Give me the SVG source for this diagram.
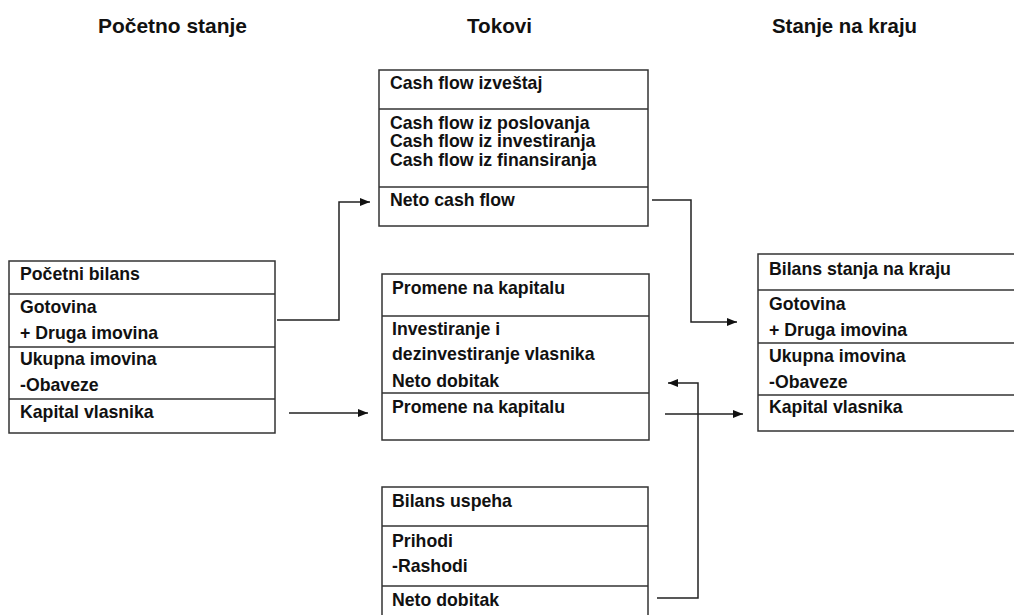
<svg xmlns="http://www.w3.org/2000/svg" width="1014" height="615" viewBox="0 0 1014 615">
<style>
.box{fill:#fff;stroke:#333;stroke-width:1.5}
.div{stroke:#333;stroke-width:1.5}
.t{font-family:"Liberation Sans",Arial,sans-serif;font-weight:bold;font-size:17.7px;fill:#111}
.h{font-family:"Liberation Sans",Arial,sans-serif;font-weight:bold;font-size:21px;fill:#111}
.c{fill:none;stroke:#222;stroke-width:1.5}
</style>
<defs>
<marker id="arr" markerUnits="userSpaceOnUse" markerWidth="11" markerHeight="9" refX="10" refY="4" orient="auto">
<path d="M0,0 L10,4 L0,8 z" fill="#111"/>
</marker>
</defs>
<rect width="1014" height="615" fill="#fff"/>
<g id="headers">
<text class="h" x="98" y="33" textLength="149" lengthAdjust="spacingAndGlyphs">Početno stanje</text>
<text class="h" x="467" y="33" textLength="65" lengthAdjust="spacingAndGlyphs">Tokovi</text>
<text class="h" x="772" y="33" textLength="145" lengthAdjust="spacingAndGlyphs">Stanje na kraju</text>
</g>
<g id="pocetni-bilans">
<rect class="box" x="9" y="261" width="266" height="172"/>
<line class="div" x1="9" y1="294" x2="275" y2="294"/>
<line class="div" x1="9" y1="347" x2="275" y2="347"/>
<line class="div" x1="9" y1="399" x2="275" y2="399"/>
<text class="t" x="20" y="280">Početni bilans</text>
<text class="t" x="20" y="313">Gotovina</text>
<text class="t" x="20" y="339">+ Druga imovina</text>
<text class="t" x="20" y="365">Ukupna imovina</text>
<text class="t" x="20" y="391">-Obaveze</text>
<text class="t" x="20" y="418">Kapital vlasnika</text>
</g>
<g id="cash-flow">
<rect class="box" x="379" y="70" width="269" height="156"/>
<line class="div" x1="379" y1="109" x2="648" y2="109"/>
<line class="div" x1="379" y1="187" x2="648" y2="187"/>
<text class="t" x="390" y="89">Cash flow izveštaj</text>
<text class="t" x="390" y="129">Cash flow iz poslovanja</text>
<text class="t" x="390" y="147">Cash flow iz investiranja</text>
<text class="t" x="390" y="166">Cash flow iz finansiranja</text>
<text class="t" x="390" y="206">Neto cash flow</text>
</g>
<g id="promene-na-kapitalu">
<rect class="box" x="382" y="274" width="267" height="166"/>
<line class="div" x1="382" y1="316" x2="649" y2="316"/>
<line class="div" x1="382" y1="393" x2="649" y2="393"/>
<text class="t" x="392" y="294">Promene na kapitalu</text>
<text class="t" x="392" y="335">Investiranje i</text>
<text class="t" x="392" y="360">dezinvestiranje vlasnika</text>
<text class="t" x="392" y="387">Neto dobitak</text>
<text class="t" x="392" y="413">Promene na kapitalu</text>
</g>
<g id="bilans-uspeha">
<rect class="box" x="382" y="487" width="266" height="140"/>
<line class="div" x1="382" y1="526" x2="648" y2="526"/>
<line class="div" x1="382" y1="586" x2="648" y2="586"/>
<text class="t" x="392" y="507">Bilans uspeha</text>
<text class="t" x="392" y="547">Prihodi</text>
<text class="t" x="392" y="572">-Rashodi</text>
<text class="t" x="392" y="606">Neto dobitak</text>
</g>
<g id="bilans-na-kraju">
<rect class="box" x="758" y="254" width="270" height="177"/>
<line class="div" x1="758" y1="290" x2="1014" y2="290"/>
<line class="div" x1="758" y1="343" x2="1014" y2="343"/>
<line class="div" x1="758" y1="395" x2="1014" y2="395"/>
<text class="t" x="769" y="275">Bilans stanja na kraju</text>
<text class="t" x="769" y="310">Gotovina</text>
<text class="t" x="769" y="336">+ Druga imovina</text>
<text class="t" x="769" y="362">Ukupna imovina</text>
<text class="t" x="769" y="388">-Obaveze</text>
<text class="t" x="769" y="413">Kapital vlasnika</text>
</g>
<g id="connectors">
<polyline class="c" points="277,320 339,320 339,202 370,202" marker-end="url(#arr)"/>
<polyline class="c" points="652,200 691,200 691,322 737,322" marker-end="url(#arr)"/>
<line class="c" x1="289" y1="413" x2="368" y2="413" marker-end="url(#arr)"/>
<line class="c" x1="665" y1="414" x2="743" y2="414" marker-end="url(#arr)"/>
<polyline class="c" points="657,598 698,598 698,383 668,383" marker-end="url(#arr)"/>
</g>
</svg>
